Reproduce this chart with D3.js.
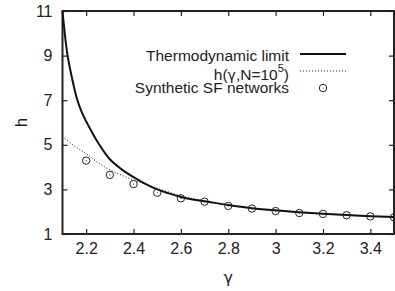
<!DOCTYPE html>
<html>
<head>
<meta charset="utf-8">
<script src="https://cdn.jsdelivr.net/npm/d3@7"></script>
<style>
  html, body { margin: 0; padding: 0; background: #fff; }
  svg { display: block; font-family: "Liberation Sans", Arial, Helvetica, sans-serif; }
  .frame { fill: none; stroke: #222; stroke-width: 2px; }
  .tick line { stroke: #222; stroke-width: 1.2px; }
  .tick text { font-size: 16px; fill: #222; }
  .line { fill: none; }
  .line.thermo { stroke: #111; stroke-width: 2px; }
  .line.finite { stroke: #222; stroke-width: 1px; stroke-dasharray: 1 2; }
  .pt { fill: none; stroke: #222; stroke-width: 1px; }
  .dot { fill: #222; }
  .legend text { font-size: 15.5px; fill: #222; text-anchor: end; }
  .label { font-size: 17px; fill: #222; }
  .greek { font-family: "DejaVu Sans", sans-serif; }
</style>
</head>
<body>
<div id="chart"></div>
<script>
(function(){

// thermodynamic limit
let thermoGamma = [2.1, 2.12, 2.14, 2.16, 2.18, 2.2, 2.22, 2.25, 2.3, 2.35, 2.4, 2.45, 2.5, 2.55, 2.6, 2.65, 2.7, 2.8, 2.9, 3.0, 3.1, 3.2, 3.3, 3.4, 3.5];
let thermoH     = [11, 9.1, 8.0, 7.1, 6.5, 6.05, 5.65, 5.1, 4.35, 3.9, 3.55, 3.25, 3.0, 2.82, 2.66, 2.55, 2.47, 2.3, 2.16, 2.06, 1.98, 1.91, 1.85, 1.8, 1.76];

// h(gamma, N=10^5), dotted curve
let finiteGamma = [2.1, 2.15, 2.2, 2.25, 2.3, 2.4, 2.5, 2.6, 2.7, 2.8, 2.9, 3.0, 3.1, 3.2, 3.3, 3.4, 3.5];
let finiteH     = [5.36, 4.95, 4.6, 4.2, 3.88, 3.42, 3.05, 2.72, 2.48, 2.29, 2.15, 2.04, 1.96, 1.9, 1.84, 1.79, 1.75];

// synthetic SF networks (circles)
let synthGamma = [2.2, 2.3, 2.4, 2.5, 2.6, 2.7, 2.8, 2.9, 3.0, 3.1, 3.2, 3.3, 3.4, 3.5];
let synthH     = [4.29, 3.65, 3.24, 2.85, 2.6, 2.45, 2.26, 2.14, 2.03, 1.94, 1.9, 1.84, 1.79, 1.75];

let xTicks = [2.2, 2.4, 2.6, 2.8, 3, 3.2, 3.4];
let yTicks = [1, 3, 5, 7, 9, 11];

let legendLabels = ["Thermodynamic limit", "h(", "\u03b3", ",N=10", "5", ")", "Synthetic SF networks"];

let margin = {top: 11, right: 1, bottom: 57, left: 62.5},
  width = 395 - margin.left - margin.right,
  height = 291 - margin.top - margin.bottom;

let x = d3.scaleLinear().domain([2.1, 3.5]).range([0, width]);
let y = d3.scaleLinear().domain([1, 11]).range([height, 0]);

let svg = d3.select("#chart").append("svg")
    .attr("width", 395)
    .attr("height", 291)
  .append("g")
    .attr("transform", "translate(" + margin.left + "," + margin.top + ")");

// axes, ticks pointing inward on all four sides
let tickLen = 5;

svg.append("g")
    .attr("transform", "translate(0," + height + ")")
    .call(d3.axisBottom(x).tickValues(xTicks).tickSizeInner(-tickLen).tickSizeOuter(0).tickPadding(10)
      .tickFormat(d3.format("")))
    .call(g => g.select(".domain").remove())
    .call(g => g.selectAll(".tick text").attr("dy", "0.71em").attr("y", 9));

svg.append("g")
    .call(d3.axisTop(x).tickValues(xTicks).tickSizeInner(-tickLen).tickSizeOuter(0).tickFormat(""))
    .call(g => g.select(".domain").remove());

svg.append("g")
    .call(d3.axisLeft(y).tickValues(yTicks).tickSizeInner(-tickLen).tickSizeOuter(0).tickPadding(10))
    .call(g => g.select(".domain").remove());

svg.append("g")
    .attr("transform", "translate(" + width + ",0)")
    .call(d3.axisRight(y).tickValues(yTicks).tickSizeInner(-tickLen).tickSizeOuter(0).tickFormat(""))
    .call(g => g.select(".domain").remove());

svg.append("rect")
    .attr("class", "frame")
    .attr("width", width)
    .attr("height", height);

// curves
let thermoData = thermoGamma.map((g, i) => ({g: g, h: thermoH[i]}));
let finiteData = finiteGamma.map((g, i) => ({g: g, h: finiteH[i]}));
let synthData = synthGamma.map((g, i) => ({g: g, h: synthH[i]}));

let line = d3.line()
    .x(d => x(d.g))
    .y(d => y(d.h))
    .curve(d3.curveCatmullRom.alpha(0.5));

svg.append("path")
    .datum(finiteData)
    .attr("class", "line finite")
    .attr("d", line);

svg.append("path")
    .datum(thermoData)
    .attr("class", "line thermo")
    .attr("d", line);

let pts = svg.selectAll(".synth")
    .data(synthData)
    .enter()
    .append("g")
    .attr("class", "synth")
    .attr("transform", d => "translate(" + x(d.g) + "," + y(d.h) + ")");

pts.append("circle").attr("class", "pt").attr("r", 3.7);
pts.append("circle").attr("class", "dot").attr("r", 0.6);

// axis labels
svg.append("text")
    .attr("class", "label greek")
    .attr("x", width / 2)
    .attr("y", height + 49)
    .style("text-anchor", "middle")
    .style("font-size", "16px")
    .text("\u03b3");

svg.append("text")
    .attr("class", "label")
    .attr("transform", "translate(" + (-36) + "," + (y(6) ) + ") rotate(-90)")
    .style("text-anchor", "middle")
    .text("h");

/**
 * Legend
 */
let legend = svg.append("g").attr("class", "legend")
    .attr("transform", "translate(" + (289 - margin.left) + "," + (54 - margin.top) + ")");

legend.append("text").attr("x", 0).attr("y", 7).text(legendLabels[0]);

let t2 = legend.append("text").attr("x", 0).attr("y", 25.5);
t2.append("tspan").text(legendLabels[1]);
t2.append("tspan").attr("class", "greek").style("font-size", "14px").text(legendLabels[2]);
t2.append("tspan").text(legendLabels[3]);
t2.append("tspan").attr("dy", -7.5).style("font-size", "11px").text(legendLabels[4]);
t2.append("tspan").attr("dy", 7.5).text(legendLabels[5]);

legend.append("text").attr("x", 0).attr("y", 38.5).text(legendLabels[6]);

legend.append("line")
    .attr("x1", 11).attr("x2", 57).attr("y1", 0).attr("y2", 0)
    .attr("class", "line thermo");

legend.append("line")
    .attr("x1", 11).attr("x2", 57).attr("y1", 17).attr("y2", 17)
    .attr("class", "line finite");

let lg = legend.append("g").attr("transform", "translate(34,34)");
lg.append("circle").attr("class", "pt").attr("r", 3.7);
lg.append("circle").attr("class", "dot").attr("r", 0.6);

})();
</script>
</body>
</html>
